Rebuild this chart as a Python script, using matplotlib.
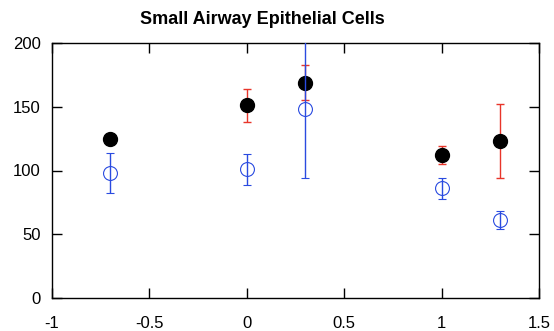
import numpy as np
import matplotlib
matplotlib.use("Agg")
import matplotlib.pyplot as plt

plt.rcParams['font.family'] = ['Liberation Sans', 'DejaVu Sans']

x = [-0.7, 0.0, 0.3, 1.0, 1.3]
black_vals = [125, 151, 169, 112, 123]
black_err = [0, 13, 14, 7, 29]
blue_vals = [98, 101, 148, 86, 61]
blue_err = [16, 12, 54, 8, 7]

fig = plt.figure(figsize=(5.54, 3.31), dpi=100)
ax = fig.add_axes([52/554, 1 - 298/331, (539-52)/554, (298-43)/331])

ax.errorbar(x, black_vals, yerr=black_err, fmt='none', ecolor='#e8352a',
            elinewidth=1, capsize=3, capthick=1, zorder=2)
ax.plot(x, black_vals, 'o', color='black', markersize=10, zorder=3)
ax.errorbar(x, blue_vals, yerr=blue_err, fmt='o', color='#2a4be0',
            markerfacecolor='none', markeredgecolor='#2a4be0', markersize=10,
            markeredgewidth=0.8, elinewidth=1, capsize=3, capthick=1, zorder=4)

ax.set_xlim(-1, 1.5)
ax.set_ylim(0, 200)
ax.set_xticks([-1, -0.5, 0, 0.5, 1, 1.5])
ax.set_xticklabels(['-1', '-0.5', '0', '0.5', '1', '1.5'])
ax.set_yticks([0, 50, 100, 150, 200])
ax.tick_params(direction='in', length=7, width=1, top=True, right=True,
               labelsize=12)
ax.tick_params(axis='x', pad=13)
ax.tick_params(axis='y', pad=8)
for s in ax.spines.values():
    s.set_linewidth(1)

fig.text(262/554, 1 - 20/331, 'Small Airway Epithelial Cells', ha='center',
         va='center', fontsize=13, fontweight='bold')

fig.savefig('out.png', dpi=100)
